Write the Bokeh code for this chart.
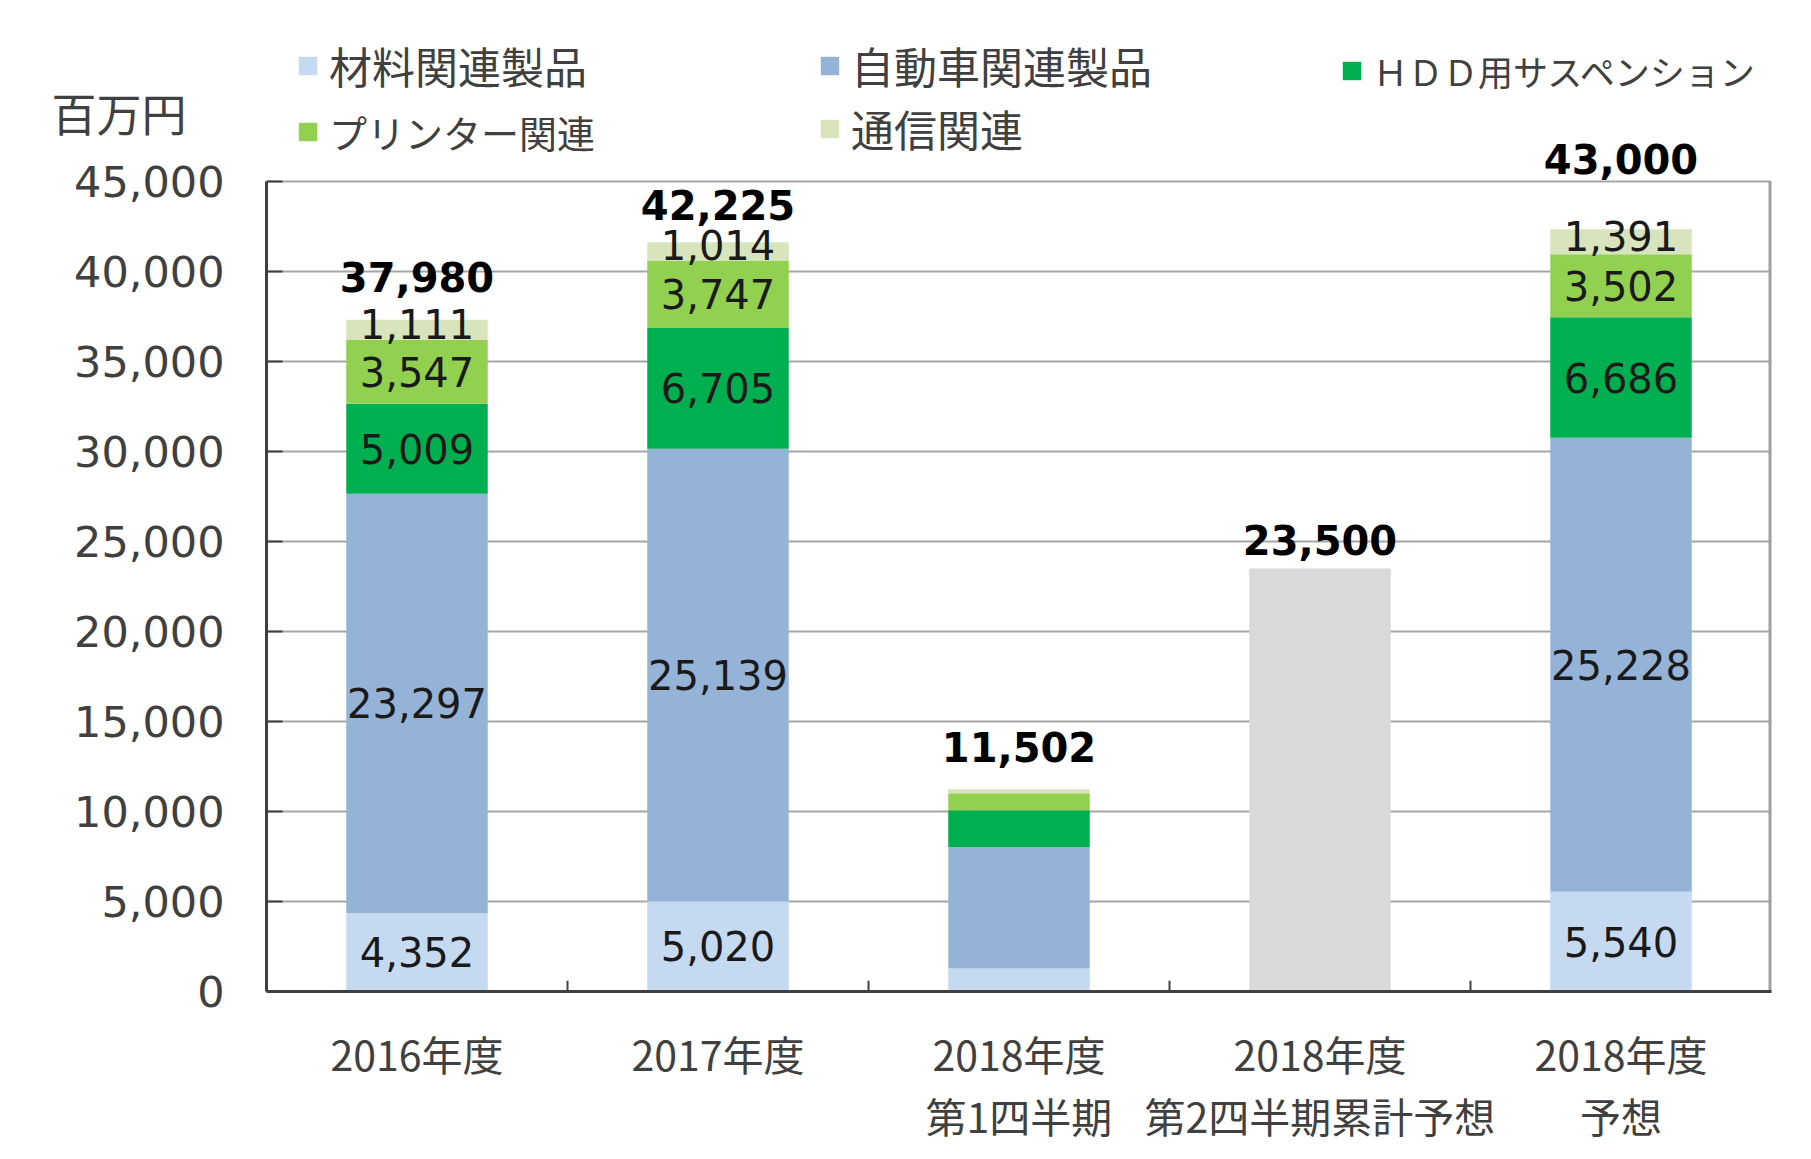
from bokeh.plotting import figure
from bokeh.models import (FactorRange, Range1d, FixedTicker, NumeralTickFormatter,
                          ColumnDataSource, LabelSet, Legend, LegendItem, LinearAxis)
from bokeh.embed import file_html
from bokeh.resources import INLINE
from bokeh.core.properties import value

# ---------------- data ----------------
categories = ["2016年度", "2017年度", "2018年度\n第1四半期",
              "2018年度\n第2四半期累計予想", "2018年度\n予想"]
series_names = ["材料関連製品", "自動車関連製品", "ＨＤＤ用サスペンション",
                "プリンター関連", "通信関連"]
materials = [4352, 5020, 1280, 0, 5540]
automotive = [23297, 25139, 6730, 0, 25228]
hdd = [5009, 6705, 2060, 0, 6686]
printer = [3547, 3747, 945, 0, 3502]
telecom = [1111, 1014, 225, 0, 1391]
forecast_q2 = [0, 0, 0, 23500, 0]
totals = [37980, 42225, 11502, 23500, 43000]
total_labels = ["37,980", "42,225", "11,502", "23,500", "43,000"]
show_segment_labels = [True, True, False, False, True]
y_ticks = [0, 5000, 10000, 15000, 20000, 25000, 30000, 35000, 40000, 45000]
unit_label = "百万円"

# ---------------- style / layout ----------------
colors = ["#c5d9f1", "#95b3d7", "#00b050", "#92d050", "#d8e4bc"]
gray = "#d9d9d9"
text_col = "#404040"
num_font = value("DejaVu Sans")
total_nudge = [31, 26, 37, 29, 59]     # label lift above total value (px)
segment_nudge = [0, 0, 0, 0, -6]       # per series label shift (px, + = down)

W, H = 1811, 1159
axis_top_px, axis_bottom_px = 181, 991      # where 45,000 and 0 sit on the canvas
y_max = y_ticks[-1]
px_per_unit = (axis_bottom_px - axis_top_px) / y_max
y_top = axis_bottom_px / px_per_unit         # frame reaches the top of the canvas
unit_y = round((axis_bottom_px - 112) / px_per_unit)

p = figure(x_range=FactorRange(*categories, range_padding=0),
           y_range=Range1d(0, y_top),
           width=W, height=H,
           min_border_left=266, min_border_right=40,
           min_border_top=0, min_border_bottom=H - axis_bottom_px,
           output_backend="svg", toolbar_location=None,
           background_fill_color="white", border_fill_color="white")

src = ColumnDataSource(dict(x=categories, m=materials, a=automotive, h=hdd,
                            pr=printer, t=telecom, g=forecast_q2))
rs = p.vbar_stack(["m", "a", "h", "pr", "t", "g"], x="x", width=0.47, source=src,
                  color=colors + [gray], line_width=0)

# segment labels
series = [materials, automotive, hdd, printer, telecom]
lx, ly, lt, lo = [], [], [], []
for i, cat in enumerate(categories):
    if not show_segment_labels[i]:
        continue
    base = 0
    for k, s in enumerate(series):
        v = s[i]
        lx.append(cat)
        ly.append(base + v / 2)
        lt.append(f"{v:,}")
        lo.append(segment_nudge[k])
        base += v
p.text(x=lx, y=ly, text=lt, y_offset=lo, text_align="center", text_baseline="middle",
       text_font=num_font, text_font_size="40px", text_color="#1a1a1a")

# total labels
tsrc = ColumnDataSource(dict(x=categories, y=totals, t=total_labels, off=total_nudge))
p.add_layout(LabelSet(x="x", y="y", text="t", source=tsrc, y_offset="off",
                      text_align="center", text_baseline="middle",
                      text_font=num_font, text_font_size="40px",
                      text_font_style="bold", text_color="black"))

# category boundary ticks (inside)
n = len(categories)
bounds = list(range(1, n))
p.segment(x0=bounds, y0=[0] * len(bounds), x1=bounds, y1=[600] * len(bounds),
          line_color=text_col, line_width=2)
# right border of the plot area
p.segment(x0=[n], y0=[0], x1=[n], y1=[y_max], line_color="#a0a0a0", line_width=6)

# axes
p.yaxis.bounds = (0, y_max)
p.yaxis.ticker = FixedTicker(ticks=y_ticks)
p.yaxis.formatter = NumeralTickFormatter(format="0,0")
p.yaxis.major_label_text_font = "DejaVu Sans"
p.yaxis.major_label_text_font_size = "43px"
p.yaxis.major_label_text_color = text_col
p.yaxis.major_label_standoff = 42
p.yaxis.axis_line_color = text_col
p.yaxis.axis_line_width = 3
p.yaxis.major_tick_in = 16
p.yaxis.major_tick_out = 0
p.yaxis.major_tick_line_color = text_col
p.yaxis.major_tick_line_width = 2
p.yaxis.minor_tick_line_color = None
p.ygrid.ticker = FixedTicker(ticks=y_ticks)

# unit label carried by an extra, line-less axis
unit_axis = LinearAxis(ticker=FixedTicker(ticks=[unit_y]),
                       major_label_overrides={unit_y: unit_label},
                       axis_line_color=None, major_tick_line_color=None,
                       minor_tick_line_color=None, major_label_standoff=-121,
                       major_label_text_font="Noto Sans CJK JP",
                       major_label_text_font_size="45px",
                       major_label_text_color=text_col)
p.add_layout(unit_axis, "left")

p.xaxis.major_label_text_font = "Noto Sans CJK JP"
p.xaxis.major_label_text_font_size = "41px"
p.xaxis.major_label_text_color = text_col
p.xaxis.major_label_text_line_height = 1.04
p.xaxis.major_label_standoff = 25
p.xaxis.axis_line_color = text_col
p.xaxis.axis_line_width = 3
p.xaxis.major_tick_line_color = None
p.xaxis.minor_tick_line_color = None

p.xgrid.grid_line_color = None
p.ygrid.grid_line_color = "#a6a6a6"
p.ygrid.grid_line_width = 2
p.outline_line_color = None

# legends (manually positioned, inside the frame)
leg_pos = [(30, 895), (552, 895), (1074, 895), (30, 832), (552, 832)]
leg_size = ["43px", "43px", "35px", "38px", "43px"]
for name, r, pos, fs in zip(series_names, rs[:5], leg_pos, leg_size):
    lg = Legend(items=[LegendItem(label=name, renderers=[r])], location=pos,
                glyph_width=23, glyph_height=23, label_standoff=10,
                padding=0, margin=0, spacing=0,
                border_line_alpha=0, background_fill_alpha=0,
                label_text_font="Noto Sans CJK JP", label_text_font_size=fs,
                label_text_color=text_col)
    p.add_layout(lg)

open("out.html", "w").write(file_html(p, INLINE))
